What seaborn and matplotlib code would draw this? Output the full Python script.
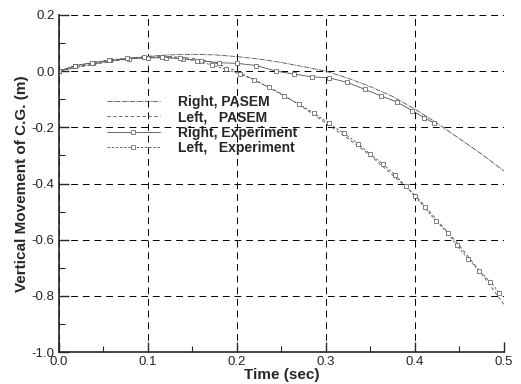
"""
Vertical movement of the C.G. - PASEM vs experiment.
"""

import numpy as np
import pandas as pd
import matplotlib
matplotlib.use("Agg")
import matplotlib.pyplot as plt
import seaborn as sns
from matplotlib.ticker import MultipleLocator

# PASEM simulation (t in sec, value in m)
t_pasem = [0.0, 0.025, 0.05, 0.075, 0.1, 0.125, 0.15, 0.175, 0.2, 0.225, 0.25,
           0.275, 0.3, 0.325, 0.35, 0.375, 0.4, 0.425, 0.45, 0.475, 0.5]
right_pasem = [0.0, 0.018, 0.032, 0.044, 0.053, 0.058, 0.060, 0.058, 0.052, 0.043, 0.031,
               0.016, 0.0, -0.025, -0.055, -0.09, -0.135, -0.185, -0.24, -0.295, -0.355]
left_pasem = [0.0, 0.016, 0.030, 0.042, 0.050, 0.052, 0.046, 0.030, 0.0, -0.04, -0.08,
              -0.13, -0.185, -0.24, -0.30, -0.37, -0.44, -0.53, -0.62, -0.72, -0.83]

# Experiment
t_right_exp = [0.0, 0.018, 0.038, 0.058, 0.079, 0.1, 0.12, 0.14, 0.16, 0.18, 0.2, 0.222,
               0.244, 0.264, 0.284, 0.304, 0.324, 0.344, 0.362, 0.38, 0.397, 0.41, 0.422]
right_exp = [0.0, 0.02, 0.03, 0.038, 0.045, 0.047, 0.048, 0.044, 0.037, 0.03, 0.028, 0.02,
             0.0, -0.01, -0.02, -0.024, -0.04, -0.065, -0.088, -0.11, -0.14, -0.165, -0.185]
t_left_exp = [0.0, 0.018, 0.037, 0.056, 0.076, 0.096, 0.116, 0.136, 0.155, 0.172, 0.188,
              0.203, 0.219, 0.236, 0.253, 0.27, 0.287, 0.303, 0.32, 0.336, 0.35, 0.364,
              0.378, 0.39, 0.4, 0.411, 0.424, 0.437, 0.447, 0.46, 0.472, 0.485, 0.495]
left_exp = [0.0, 0.018, 0.03, 0.04, 0.046, 0.05, 0.05, 0.046, 0.036, 0.022, 0.006,
            -0.01, -0.03, -0.058, -0.088, -0.118, -0.15, -0.185, -0.22, -0.258, -0.295, -0.33,
            -0.37, -0.41, -0.445, -0.485, -0.535, -0.575, -0.62, -0.668, -0.71, -0.75, -0.79]

LINE = '#505050'

sns.set_style("ticks")
plt.rcParams['font.family'] = ['Liberation Sans', 'DejaVu Sans']

fig = plt.figure(figsize=(5.21, 3.84), dpi=100)
ax = fig.add_axes([0.113, 0.083, 0.854, 0.878])

sns.lineplot(x=t_pasem, y=right_pasem, ax=ax, color=LINE, lw=0.6,
             linestyle=(0, (6, 1, 1, 1)), sort=False, label='Right, PASEM')
sns.lineplot(x=t_pasem, y=left_pasem, ax=ax, color=LINE, lw=0.6,
             linestyle=(0, (4, 3)), sort=False, label='Left,   PASEM')
sns.lineplot(x=t_right_exp, y=right_exp, ax=ax, color=LINE, lw=0.6,
             marker='s', markersize=3.5, markerfacecolor='white', markeredgecolor=LINE,
             markeredgewidth=0.5, sort=False, label='Right, Experiment')
sns.lineplot(x=t_left_exp, y=left_exp, ax=ax, color=LINE, lw=0.6, linestyle=(0, (3, 2)),
             marker='s', markersize=3.5, markerfacecolor='white', markeredgecolor=LINE,
             markeredgewidth=0.5, sort=False, label='Left,   Experiment')

ax.set_xlim(0, 0.5)
ax.set_ylim(-1.0, 0.2)
ax.xaxis.set_major_locator(MultipleLocator(0.1))
ax.xaxis.set_minor_locator(MultipleLocator(0.05))
ax.yaxis.set_major_locator(MultipleLocator(0.2))
ax.yaxis.set_minor_locator(MultipleLocator(0.1))
ax.xaxis.set_major_formatter(plt.FormatStrFormatter('%.1f'))
ax.yaxis.set_major_formatter(plt.FormatStrFormatter('%.1f'))
ax.tick_params(which='major', direction='in', length=7, width=1, labelsize=9.5, pad=3)
ax.tick_params(which='minor', direction='in', length=4, width=0.8)

ax.grid(True, which='major', color='black', linestyle=(0, (7, 5)), linewidth=0.7)
for side in ['top', 'right']:
    ax.spines[side].set_visible(False)
for side in ['left', 'bottom']:
    ax.spines[side].set_linewidth(1.2)

ax.set_xlabel('Time (sec)', fontsize=11, fontweight='bold', labelpad=0)
ax.set_ylabel('Vertical Movement of C.G. (m)', fontsize=11, fontweight='bold', labelpad=2)

leg = ax.legend(loc='upper left', bbox_to_anchor=(0.08, 0.80), frameon=False,
                fontsize=10, handlelength=3.8, handletextpad=1.3, labelspacing=0.1)
for txt in leg.get_texts():
    txt.set_fontweight('bold')

fig.savefig('out.png', dpi=100)
